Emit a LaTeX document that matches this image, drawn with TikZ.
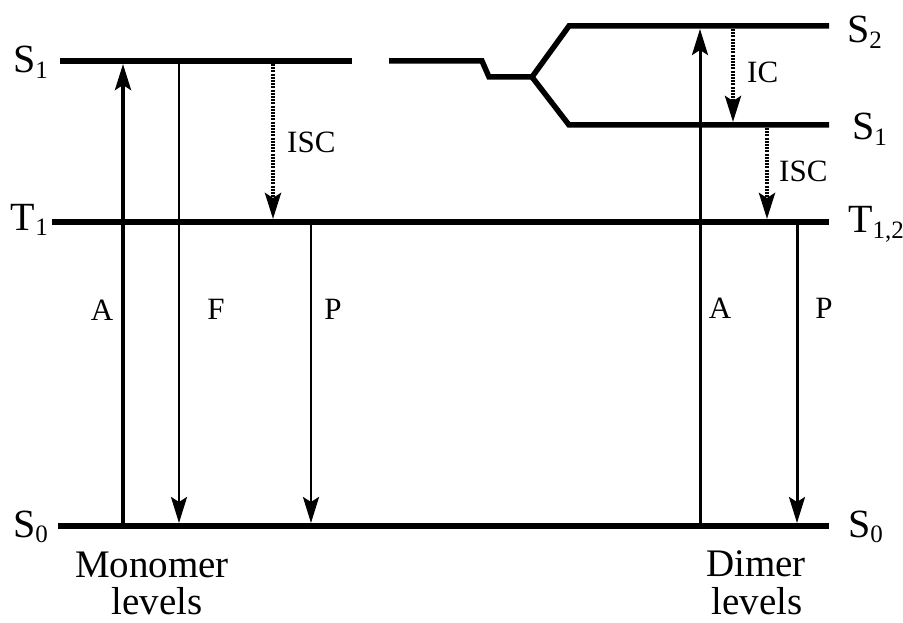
\documentclass[tikz,border=0pt]{standalone}
\usepackage{fontspec}
\setmainfont{Liberation Serif}
\usetikzlibrary{arrows.meta}
\newcommand\lvsb[1]{\raisebox{-0.13em}{\fontsize{25}{25}\selectfont #1}}
\begin{document}
\begin{tikzpicture}[x=1pt,y=-1pt,
  level/.style={line width=5.5pt,line join=miter},
  tipS/.style={-{Stealth[length=26pt,width=16pt,inset=5pt]}},
  thickarr/.style={tipS,line width=4pt},
  medarr/.style={tipS,line width=2.8pt},
  dotarr/.style={tipS,line width=4pt,dash pattern=on 2pt off 1.2pt},
  lvl/.style={inner sep=0pt,font=\fontsize{40}{40}\selectfont},
  ann/.style={inner sep=0pt,font=\fontsize{31}{31}\selectfont,anchor=base},
  captext/.style={inner sep=0pt,font=\fontsize{39}{39}\selectfont,anchor=base}]
\useasboundingbox (0,0) rectangle (903,623);
% levels
\draw[level] (60,61) -- (352,61);
\draw[level] (389,61) -- (482,61) -- (489,77) -- (532,77) -- (569,26) -- (829,26);
\draw[level] (532,77) -- (569,125) -- (829,125);
\draw[level] (52,222) -- (829,222);
\draw[level] (58,526) -- (829,526);
% coordinates
\coordinate (mA0) at (123,528.5);
\coordinate (mA1) at (123,64);
\coordinate (mF0) at (179,61);
\coordinate (mF1) at (179,523);
\coordinate (mI0) at (273,64);
\coordinate (mI1) at (273,219);
\coordinate (mP0) at (311,222);
\coordinate (mP1) at (311,523);
\coordinate (dA0) at (700,528.5);
\coordinate (dA1) at (700,29);
\coordinate (dC0) at (733,29);
\coordinate (dC1) at (733,122);
\coordinate (dI0) at (767,128);
\coordinate (dI1) at (767,219);
\coordinate (dP0) at (797,222);
\coordinate (dP1) at (797,523);
% arrows
\draw[thickarr] (mA0) -- (mA1);
\draw[medarr] (mF0) -- (mF1);
\draw[dotarr] (mI0) -- (mI1);
\draw[medarr] (mP0) -- (mP1);
\draw[medarr,line width=3pt] (dA0) -- (dA1);
\draw[dotarr] (dC0) -- (dC1);
\draw[dotarr] (dI0) -- (dI1);
\draw[medarr,line width=3pt] (dP0) -- (dP1);
% level labels
\node[lvl,anchor=base east] (lS1) at (48,73) {S\lvsb{1}};
\node[lvl,anchor=base east] (lT1) at (48,230) {T\lvsb{1}};
\node[lvl,anchor=base east] (lS0) at (48,537) {S\lvsb{0}};
\node[lvl,anchor=base west] (rS2) at (847,43) {S\lvsb{2}};
\node[lvl,anchor=base west] (rS1) at (852,140) {S\lvsb{1}};
\node[lvl,anchor=base west] (rT) at (848,233) {T\lvsb{1,2}};
\node[lvl,anchor=base west] (rS0) at (848,537) {S\lvsb{0}};
% annotations
\node[ann] (tA1) at (102,320) {A};
\node[ann] (tF) at (216,319) {F};
\node[ann] (tP1) at (333,319) {P};
\node[ann] (tA2) at (720,318) {A};
\node[ann] (tP2) at (824,318) {P};
\node[ann,anchor=base west] (tISC1) at (287,153) {ISC};
\node[ann,anchor=base west] (tIC) at (747,83) {IC};
\node[ann,anchor=base west] (tISC2) at (779,182) {ISC};
% captions
\node[captext] (mon) at (152,577) {Monomer};
\node[captext] (monl) at (157,614) {levels};
\node[captext] (dim) at (756,576) {Dimer};
\node[captext] (diml) at (757,614) {levels};
\end{tikzpicture}
\end{document}
